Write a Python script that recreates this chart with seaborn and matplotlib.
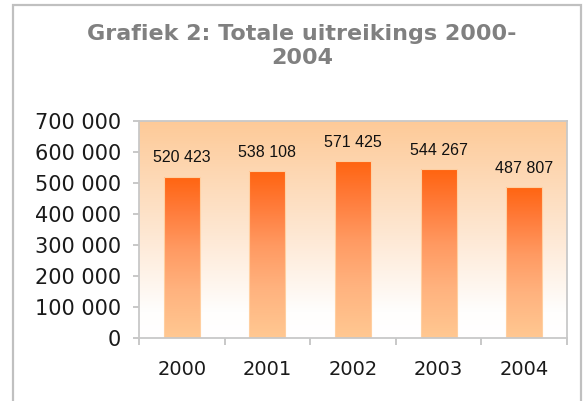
import numpy as np
import pandas as pd
import matplotlib
matplotlib.use("Agg")
import matplotlib.pyplot as plt
import seaborn as sns
from matplotlib.colors import LinearSegmentedColormap
from matplotlib.patches import Rectangle

years = ["2000", "2001", "2002", "2003", "2004"]
values = [520423, 538108, 571425, 544267, 487807]
value_labels = ["520 423", "538 108", "571 425", "544 267", "487 807"]
ytick_values = [0, 100000, 200000, 300000, 400000, 500000, 600000, 700000]
ytick_labels = ["0", "100 000", "200 000", "300 000", "400 000", "500 000", "600 000", "700 000"]
title_lines = ["Grafiek 2: Totale uitreikings 2000-", "2004"]

sns.set_theme(style="white")
plt.rcParams["font.family"] = ["DejaVu Sans"]

W, H, DPI = 583, 401, 100
fig = plt.figure(figsize=(W / DPI, H / DPI), dpi=DPI)
fig.patch.set_facecolor("white")

# plot area in pixel coordinates
x0, x1, ytop, ybot = 139, 567, 121, 338
ax = fig.add_axes([x0 / W, 1 - ybot / H, (x1 - x0) / W, (ybot - ytop) / H])

df = pd.DataFrame({"year": years, "value": values})
sns.barplot(data=df, x="year", y="value", ax=ax, width=0.42, color="#FF7A30",
            edgecolor="none", zorder=3)

ax.set_ylim(0, 700000)
ax.set_xlim(-0.5, len(years) - 0.5)

# background gradient
bg_cmap = LinearSegmentedColormap.from_list(
    "bg", [(0.0, "#FFFFFF"), (0.12, "#FFFEFD"), (0.45, "#FEE9D6"), (1.0, "#FDCA98")], N=256)
grad = np.linspace(0, 1, 256).reshape(-1, 1)
ax.imshow(grad, extent=[-0.5, len(years) - 0.5, 0, 700000], origin="lower",
          aspect="auto", cmap=bg_cmap, zorder=0)

# bar gradients
bar_cmap = LinearSegmentedColormap.from_list(
    "bar", [(0.0, "#FFC892"), (0.3, "#FFB27E"), (0.55, "#FF9A62"), (0.8, "#FF7A38"), (1.0, "#FF6410")], N=256)
for p in ax.patches:
    bx, by = p.get_x(), p.get_y()
    bw, bh = p.get_width(), p.get_height()
    p.set_facecolor("none")
    im = ax.imshow(grad, extent=[bx, bx + bw, by, by + bh], origin="lower",
                   aspect="auto", cmap=bar_cmap, zorder=3)
    im.set_clip_path(p)
    edge = Rectangle((bx, by), bw, bh, facecolor="none", edgecolor="#FFCFA0",
                     linewidth=0.8, zorder=4)
    ax.add_patch(edge)

ax.set_xlim(-0.5, len(years) - 0.5)
ax.set_ylim(0, 700000)

for i, (v, lab) in enumerate(zip(values, value_labels)):
    ax.annotate(lab, (i, v), xytext=(0, 13.5), textcoords="offset points",
                ha="center", va="center", fontsize=11.5, color="#111111",
                family="Liberation Sans", zorder=5)

ax.set_yticks(ytick_values)
ax.set_yticklabels(ytick_labels, fontsize=15, color="#1a1a1a")
ax.set_xticks(range(len(years)))
ax.set_xticklabels(years, fontsize=14, color="#1a1a1a")
ax.tick_params(axis="x", length=0, pad=16)
ax.tick_params(axis="y", length=4, width=1.2, color="#BFBFBF", pad=9, left=True)
ax.set_xticks(np.arange(-0.5, len(years), 1.0), minor=True)
ax.tick_params(axis="x", which="minor", length=5, width=1.2, color="#BFBFBF", bottom=True)
ax.set_xlabel("")
ax.set_ylabel("")
for s in ax.spines.values():
    s.set_color("#C8C8C8")
    s.set_linewidth(1.3)
    s.set_zorder(6)
ax.grid(False)

fig.text(302 / W, 1 - 40 / H, title_lines[0], ha="center", va="baseline", fontsize=16,
         fontweight="bold", color="#808080")
fig.text(302 / W, 1 - 64 / H, title_lines[1], ha="center", va="baseline", fontsize=16,
         fontweight="bold", color="#808080")

# outer frame
fig.patches.append(Rectangle((13 / W, -0.05), (581 - 13) / W, (H - 5) / H + 0.05,
                             transform=fig.transFigure, facecolor="none",
                             edgecolor="#C0C0C0", linewidth=1.6, zorder=0))

fig.savefig("out.png", dpi=DPI)
